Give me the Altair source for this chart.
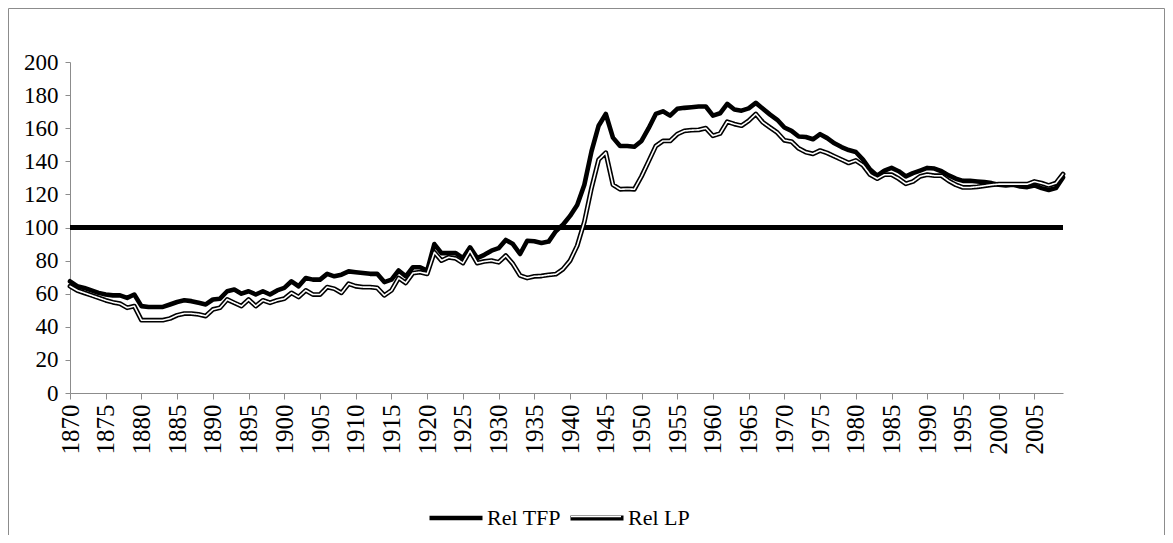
import altair as alt
import pandas as pd

years = list(range(1870, 2010))
rel_tfp = [
    67.5, 64.5, 63.5, 62, 60.5, 59.5, 59, 59, 57.5, 59.5,
    52.5, 52, 52, 52, 53.5, 55, 56, 55.5, 54.5, 53.5,
    56.5, 57, 61.5, 62.5, 60, 61.5, 59.5, 61.5, 59.5, 62,
    63.5, 67.5, 64.5, 69.5, 68.5, 68.5, 72, 70.5, 71.5, 73.5,
    73, 72.5, 72, 72, 67, 68.5, 74, 70.5, 76, 76,
    74, 90, 84.5, 84.5, 84.5, 81.5, 88, 81.5, 83.5, 86,
    87.5, 92.5, 90, 84, 92, 91.7, 90.7, 91.5, 97.7, 101.7,
    107, 113.6, 125.8, 146, 161.5, 168.6, 154.3, 149.2, 149.2, 148.8,
    152.3, 160, 168.6, 170.2, 167.6, 171.7, 172.3, 172.7, 173.1, 173.1,
    167.6, 169, 174.7, 171.3, 170.6, 172, 175.3, 171.7, 168.2, 165.1,
    160.4, 158.4, 155, 154.7, 153.3, 156.4, 154, 150.9, 148.6, 146.8,
    145.6, 141, 135, 131.3, 134.4, 136, 134, 130.9, 132.9, 134.4,
    136, 135.6, 134, 131.5, 129.5, 128.2, 128.2, 127.8, 127.4, 126.8,
    125.8, 125.4, 125.8, 124.8, 124.4, 125.4, 123.8, 122.7, 123.8, 130.3,
]
rel_lp = [
    64.5, 62, 60.5, 59, 57.5, 56, 54.8, 54, 51.5, 52.5,
    44, 44, 44, 44, 45, 47, 48, 48, 47.5, 46.5,
    50.5, 51.5, 56.5, 54.5, 52.5, 56.5, 52.5, 56, 54.5, 56,
    57, 60.5, 58, 62, 59.5, 59.5, 64, 63, 60.5, 66,
    64.5, 64, 64, 63.5, 59, 62, 69.5, 66.5, 72.5, 73,
    72, 85, 80, 82, 81.3, 78.5, 86, 78.5, 79.5, 80,
    79, 83, 78, 71, 69.5, 70.5, 70.7, 71.4, 71.8, 74.8,
    80, 89, 103.4, 123.8, 141, 145.2, 125.8, 123.1, 123.3, 123.1,
    130.9, 140, 149.2, 152.3, 152.3, 156.4, 158.4, 158.8, 159, 160,
    155.4, 156.8, 163.9, 162.5, 161.5, 164.5, 168.6, 163.5, 160.4, 157.4,
    152.7, 151.9, 147.8, 145.5, 144.5, 146.5, 145, 143, 141, 139,
    140.5, 137.6, 131.9, 129.5, 131.9, 131.9, 129.5, 126.4, 127.8, 130.9,
    131.9, 131.3, 131.3, 128.2, 125.8, 124.2, 124.2, 124.6, 125.2, 125.8,
    126.2, 126.2, 126.2, 126.2, 126.2, 127.8, 126.8, 125.4, 126.8, 132.3,
]
x_ticks = list(range(1870, 2010, 5))
y_ticks = list(range(0, 201, 20))
series_names = ["Rel TFP", "Rel LP"]
ref_level = [100]

df = pd.DataFrame({
    "year": years + years,
    "value": rel_tfp + rel_lp,
    "series": [series_names[0]] * len(years) + [series_names[1]] * len(years),
})
ref_df = pd.DataFrame({"year": [years[0]], "year2": [years[-1]], "value": ref_level})

FONT = "Liberation Serif"
W, H = 993, 331
PAD_L, PAD_T, PAD_R, PAD_B = 62, 54, 102, 142
GRAY = "#8c8c8c"

x_enc = alt.X(
    "year:Q",
    scale=alt.Scale(domain=[years[0], years[-1]], nice=False, zero=False),
    axis=alt.Axis(values=x_ticks, format="d", labelAngle=-90, title=None,
                  grid=False, domainColor=GRAY, tickColor=GRAY, tickSize=6,
                  labelPadding=5, labelFont=FONT, labelFontSize=25,
                  labelColor="black", labelOverlap=False, labelFlush=False),
)
y_enc = alt.Y(
    "value:Q",
    scale=alt.Scale(domain=[0, 200], nice=False),
    axis=alt.Axis(values=y_ticks, title=None, grid=False, domainColor=GRAY,
                  tickColor=GRAY, tickSize=5, labelPadding=7, labelFont=FONT,
                  labelFontSize=23, labelColor="black"),
)

leg_common = dict(orient="none", direction="horizontal", title=None,
                  symbolType="stroke", labelFont=FONT, labelFontSize=22,
                  labelColor="black", labelOffset=2, padding=0)

ref_rule = alt.Chart(ref_df).mark_rule(color="black", strokeWidth=5).encode(
    x=x_enc, x2="year2:Q", y=y_enc
)

tfp = alt.Chart(df).transform_filter(alt.datum.series == series_names[0]).mark_line(
    strokeWidth=4.6, strokeJoin="round", strokeCap="round"
).encode(
    x=x_enc, y=y_enc,
    color=alt.Color("series:N", scale=alt.Scale(domain=[series_names[0]], range=["black"]),
                    legend=alt.Legend(legendX=357, legendY=427, symbolSize=2809,
                                      symbolStrokeWidth=4.5, **leg_common)),
)

lp_outline = alt.Chart(df).transform_filter(alt.datum.series == series_names[1]).mark_line(
    strokeWidth=4.8, strokeJoin="round", strokeCap="round"
).encode(
    x=x_enc, y=y_enc,
    stroke=alt.Stroke("series:N", scale=alt.Scale(domain=[series_names[1]], range=["black"]),
                      legend=alt.Legend(legendX=498, legendY=427, symbolSize=2809,
                                        symbolStrokeWidth=4.8, **leg_common)),
)

lp_core = alt.Chart(df).transform_filter(alt.datum.series == series_names[1]).mark_line(
    color="white", strokeWidth=1.6, strokeJoin="round", strokeCap="round"
).encode(
    x=x_enc, y=y_enc,
    strokeDash=alt.StrokeDash("series:N", scale=alt.Scale(domain=[series_names[1]], range=[[1, 0]]),
                              legend=alt.Legend(legendX=500, legendY=428.5, symbolSize=2500,
                                                symbolStrokeWidth=1.6, symbolStrokeColor="white",
                                                labelExpr="''", **leg_common)),
)

frame_df = pd.DataFrame({"k": [0]})
frame_left = alt.Chart(frame_df).mark_rule(color=GRAY, strokeWidth=1).encode(
    x=alt.value(-61.5), y=alt.value(-53.5), y2=alt.value(H + PAD_B)
)
frame_top = alt.Chart(frame_df).mark_rule(color=GRAY, strokeWidth=1).encode(
    x=alt.value(-61.5), x2=alt.value(W + PAD_R - 0.5), y=alt.value(-53.5)
)
frame_right = alt.Chart(frame_df).mark_rule(color=GRAY, strokeWidth=1).encode(
    x=alt.value(W + PAD_R - 0.5), y=alt.value(-53.5), y2=alt.value(H + PAD_B)
)

chart = alt.layer(
    frame_left, frame_top, frame_right, ref_rule, tfp, lp_outline, lp_core
).resolve_scale(color="independent", stroke="independent", strokeDash="independent").properties(
    width=W, height=H,
    autosize=alt.AutoSizeParams(type="none"),
    padding={"left": PAD_L, "top": PAD_T, "right": PAD_R, "bottom": PAD_B},
    background="white",
).configure_view(stroke=None)

chart.save("out.html", embed_options={"renderer": "svg", "actions": False})
